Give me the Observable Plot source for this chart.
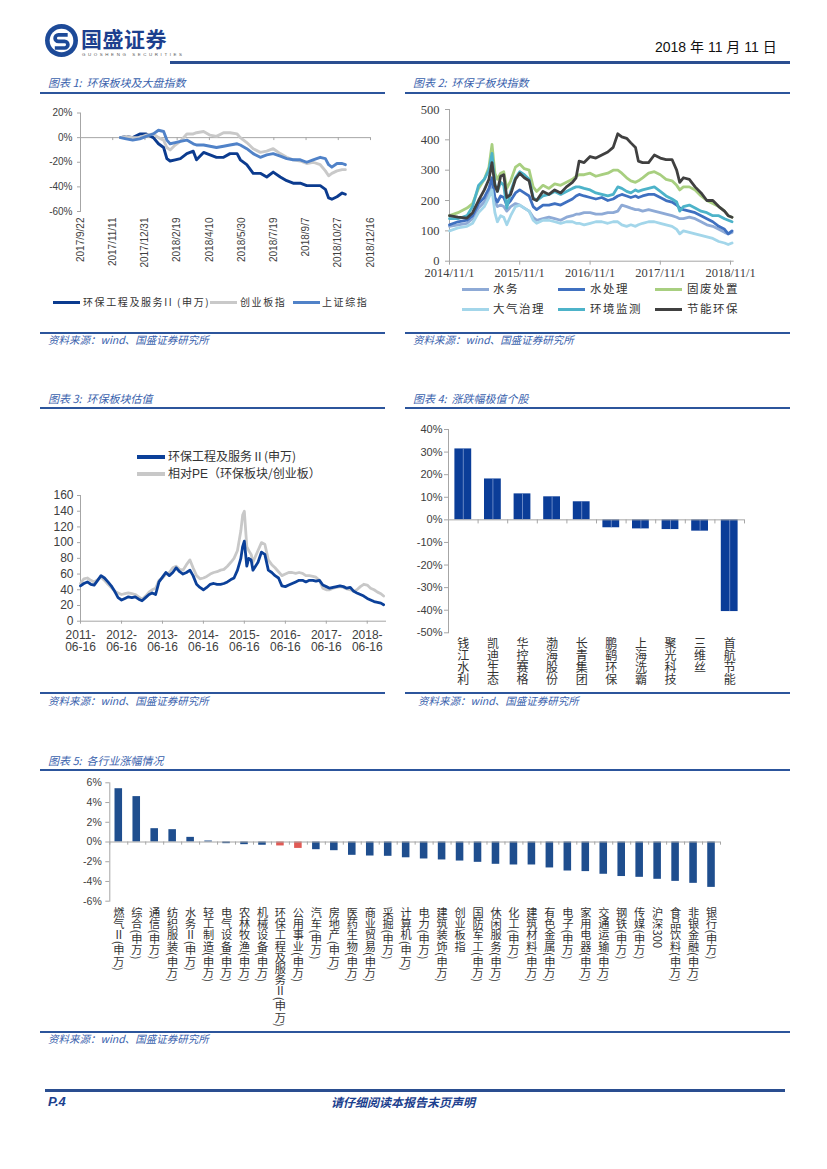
<!DOCTYPE html>
<html><head><meta charset="utf-8">
<script src="https://cdn.jsdelivr.net/npm/d3@7"></script>
<script src="https://cdn.jsdelivr.net/npm/@observablehq/plot@0.6"></script>
<style>
html,body{margin:0;padding:0;background:#fff;}
#page{position:relative;width:827px;height:1169px;overflow:hidden;font-family:"Noto Sans CJK SC","Noto Sans",sans-serif;color:#333;}
.t{position:absolute;white-space:nowrap;}
.title{position:absolute;white-space:nowrap;font-style:italic;color:#3a62ad;font-size:11px;line-height:12px;}
.src{position:absolute;white-space:nowrap;font-style:italic;color:#3a62ad;font-size:10.5px;line-height:12px;}
.bar{position:absolute;background:#2c559c;}
.lg{position:absolute;white-space:nowrap;line-height:12px;}
</style></head>
<body><div id="page"></div>
<script>
// ---------------- data ----------------
// Chart 1
const c1Series = ["环保工程及服务II (申万)", "创业板指", "上证综指"];
const c1Colors = ["#0b3b8f", "#c9c9c9", "#5082c8"];
const c1Dates = ["2017-11-23","2017-12-02","2017-12-12","2017-12-23","2018-01-02","2018-01-13","2018-01-21","2018-01-29","2018-02-03","2018-02-08","2018-02-16","2018-02-24","2018-03-06","2018-03-16","2018-03-21","2018-04-01","2018-04-11","2018-04-21","2018-05-02","2018-05-12","2018-05-23","2018-05-28","2018-06-07","2018-06-17","2018-06-28","2018-07-08","2018-07-18","2018-07-29","2018-08-08","2018-08-18","2018-08-29","2018-09-08","2018-09-18","2018-09-29","2018-10-07","2018-10-12","2018-10-17","2018-10-25","2018-11-02","2018-11-07"];
const c1Env = [0,1,0,3,3,0,-5,-8,-17,-19,-18,-17,-13,-11,-18,-12,-14,-16,-16,-13,-13,-18,-22,-29,-29,-32,-28,-32,-35,-37,-37,-39,-39,-39,-42,-49,-50,-48,-45,-46];
const c1Gem = [0,1,0,0,2,3,0,-2,-8,-10,-6,-3,3,3,4,5,2,1,4,4,3,0,-4,-9,-12,-11,-9,-13,-16,-18,-19,-21,-20,-22,-27,-31,-29,-27,-26,-26];
const c1Sh  = [0,-1,-2,-1,1,3,6,5,-2,-5,-4,-3,-2,-5,-6,-6,-7,-8,-7,-6,-5,-6,-9,-13,-16,-14,-13,-15,-17,-18,-18,-20,-18,-16,-17,-22,-24,-21,-21,-22];
const c1TickLabels = ["2017/9/22","2017/11/11","2017/12/31","2018/2/19","2018/4/10","2018/5/30","2018/7/19","2018/9/7","2018/10/27","2018/12/16"];
const c1YTicks = [20,0,-20,-40,-60];

// Chart 2
const c2Series = ["水务","水处理","固废处置","大气治理","环境监测","节能环保"];
const c2Colors = ["#8eaad6","#3f70c0","#a8cf80","#a3d6ea","#4db3c9","#404040"];
const c2Dates = ["2014-11-01","2014-12-15","2015-01-31","2015-03-01","2015-04-01","2015-05-01","2015-05-25","2015-06-10","2015-06-25","2015-07-08","2015-07-25","2015-08-10","2015-08-26","2015-09-15","2015-10-10","2015-11-01","2015-11-25","2015-12-20","2016-01-10","2016-01-28","2016-03-01","2016-04-01","2016-05-01","2016-06-01","2016-07-01","2016-08-01","2016-08-20","2016-09-05","2016-10-01","2016-11-01","2016-12-01","2017-01-01","2017-02-01","2017-03-01","2017-03-25","2017-04-15","2017-05-10","2017-06-01","2017-06-25","2017-07-10","2017-08-01","2017-09-01","2017-10-01","2017-11-01","2017-12-01","2018-01-01","2018-01-25","2018-02-10","2018-03-01","2018-04-01","2018-05-01","2018-06-01","2018-07-01","2018-08-01","2018-09-01","2018-10-01","2018-10-20","2018-11-09"];
const c2Water   = [115,120,125,140,175,195,220,250,195,180,185,180,165,180,190,185,175,165,145,135,140,145,140,135,145,150,155,155,160,160,155,155,160,160,165,185,180,175,170,170,165,170,165,160,155,150,145,140,140,145,140,130,120,115,105,95,90,95];
const c2Treat   = [120,130,135,150,190,210,240,275,210,195,215,210,185,200,225,235,225,215,180,170,185,185,190,185,195,205,215,220,215,210,205,210,200,205,215,220,215,210,215,210,215,220,220,210,200,195,185,175,170,165,160,150,140,130,115,105,90,100];
const c2Solid   = [150,160,175,190,240,270,310,385,290,270,290,295,240,265,310,320,305,300,245,230,250,240,255,250,260,270,280,285,285,290,280,285,290,300,300,290,275,265,260,265,275,290,295,285,270,265,250,235,245,245,235,215,200,190,180,165,150,145];
const c2Air     = [100,110,115,125,160,180,210,235,160,130,150,145,120,150,180,185,175,165,135,125,135,135,130,125,130,130,125,125,120,125,130,130,125,130,130,120,115,120,115,120,125,130,130,125,120,115,105,90,100,95,90,85,80,75,65,60,55,60];
const c2Monitor = [140,140,150,180,250,270,300,355,255,230,260,250,175,230,275,295,285,270,210,200,215,220,230,220,230,240,245,245,240,235,225,220,215,220,245,240,230,225,235,230,235,240,245,230,215,205,195,165,180,185,175,165,160,150,150,140,135,130];
const c2Energy  = [150,145,142,160,200,235,270,325,250,230,280,285,210,220,270,290,275,265,205,200,230,220,235,225,245,260,275,330,325,345,340,350,360,375,420,410,405,390,375,330,325,325,350,340,335,335,300,260,275,270,245,225,200,200,180,165,150,145];
const c2TickLabels = ["2014/11/1","2015/11/1","2016/11/1","2017/11/1","2018/11/1"];
const c2YTicks = [0,100,200,300,400,500];

// Chart 3
const c3Series = ["相对PE（环保板块/创业板）","环保工程及服务Ⅱ(申万)"];
const c3Colors = ["#c8c8c8","#0b4099"];
const c3Dates = ["2011-06-16","2011-07-16","2011-08-16","2011-09-16","2011-10-16","2011-11-16","2011-12-16",
"2012-01-16","2012-02-16","2012-03-16","2012-04-16","2012-05-16","2012-06-16","2012-07-16","2012-08-16","2012-09-16","2012-10-16","2012-11-16","2012-12-16",
"2013-01-16","2013-02-16","2013-03-16","2013-04-16","2013-05-16","2013-06-16","2013-07-16","2013-08-16","2013-09-16","2013-10-16","2013-11-16","2013-12-16",
"2014-01-16","2014-02-16","2014-03-16","2014-04-16","2014-05-16","2014-06-16","2014-07-16","2014-08-16","2014-09-16","2014-10-16","2014-11-16","2014-12-16",
"2015-01-16","2015-02-16","2015-03-16","2015-04-16","2015-05-16","2015-06-01","2015-06-16","2015-07-08","2015-07-25","2015-08-16","2015-09-01","2015-10-16","2015-11-16","2015-12-16",
"2016-01-16","2016-02-16","2016-03-16","2016-04-16","2016-05-16","2016-06-16","2016-07-16","2016-08-16","2016-09-16","2016-10-16","2016-11-16","2016-12-16",
"2017-01-16","2017-02-16","2017-03-16","2017-04-16","2017-05-16","2017-06-16","2017-07-16","2017-08-16","2017-09-16","2017-10-16","2017-11-16","2017-12-16",
"2018-01-16","2018-02-16","2018-03-16","2018-04-16","2018-05-16","2018-06-16","2018-07-16","2018-08-16","2018-09-16","2018-10-16","2018-11-09"];
const c3Env = [45,48,50,47,46,52,58,
55,50,45,38,30,27,29,31,30,31,28,26,
30,34,36,34,50,56,62,58,62,68,63,60,
62,65,58,47,43,40,43,47,48,47,47,48,
50,53,55,65,80,95,102,70,80,78,65,75,88,85,
65,62,58,55,45,44,46,48,50,52,52,50,
52,52,51,52,46,44,42,43,44,45,44,42,
43,38,36,34,32,29,27,25,24,23,21];
const c3PE = [48,54,55,52,50,53,56,
52,47,43,38,36,34,35,36,35,34,31,28,
32,37,40,42,52,55,60,62,68,70,66,65,
72,78,68,58,54,55,57,60,62,63,65,66,
70,75,80,90,115,135,140,95,90,85,75,90,100,98,
78,72,68,63,58,60,62,62,61,62,61,58,
58,57,56,52,42,40,40,42,43,44,43,41,
40,38,40,44,47,46,42,40,37,35,32];
const c3TickLabels = ["2011-06-16","2012-06-16","2013-06-16","2014-06-16","2015-06-16","2016-06-16","2017-06-16","2018-06-16"];
const c3YTicks = [0,20,40,60,80,100,120,140,160];

// Chart 4
const c4Names = ["钱江水利","凯迪生态","华控赛格","渤海股份","长青集团","鹏鹞环保","上海洗霸","聚光科技","三维丝","首航节能"];
const c4Values = [31.4,18.1,11.5,10.2,8.0,-3.5,-4.0,-4.3,-5.0,-40.6];
const c4YTicks = [40,30,20,10,0,-10,-20,-30,-40,-50];

// Chart 5
const c5Names = ["燃气Ⅱ(申万)","综合(申万)","通信(申万)","纺织服装(申万)","水务Ⅱ(申万)","轻工制造(申万)","电气设备(申万)","农林牧渔(申万)","机械设备(申万)","环保工程及服务Ⅱ(申万)","公用事业(申万)","汽车(申万)","房地产(申万)","医药生物(申万)","商业贸易(申万)","采掘(申万)","计算机(申万)","电力(申万)","建筑装饰(申万)","创业板指","国防军工(申万)","休闲服务(申万)","化工(申万)","建筑材料(申万)","有色金属(申万)","电子(申万)","家用电器(申万)","交通运输(申万)","钢铁(申万)","传媒(申万)","沪深300","食品饮料(申万)","非银金融(申万)","银行(申万)"];
const c5Values = [5.4,4.6,1.35,1.25,0.47,0.1,-0.17,-0.27,-0.33,-0.4,-0.65,-0.78,-0.88,-1.35,-1.42,-1.45,-1.6,-1.72,-1.82,-1.93,-2.06,-2.26,-2.33,-2.33,-2.63,-2.94,-3.0,-3.27,-3.5,-3.58,-3.78,-3.99,-4.19,-4.6];
const c5Highlight = ["环保工程及服务Ⅱ(申万)","公用事业(申万)"];
const c5YTicks = [6,4,2,0,-2,-4,-6];

// ---------------- helpers ----------------
const page = document.getElementById("page");
const parse = s => { const [y,m,d] = s.split(/[-\/]/).map(Number); return new Date(Date.UTC(y, m-1, d)); };
function place(el, left, top){ el.style.position="absolute"; el.style.left=left+"px"; el.style.top=top+"px"; page.appendChild(el); return el; }
function div(cls, left, top, html, css){ const e=document.createElement("div"); e.className=cls; e.innerHTML=html||""; if(css) e.style.cssText += css; return place(e,left,top); }
function hline(left, top, width, h, color){ return div("bar", left, top, "", `width:${width}px;height:${h}px;background:${color||"#2c559c"};`); }
function grayAxes(svg, c){ d3.select(svg).selectAll('[stroke="currentColor"]').attr("stroke", c || "#a6a6a6"); }
function vertical(svg){
  d3.select(svg).selectAll('g[aria-label="text"] text')
    .attr("dy", null)
    .attr("text-anchor","start")
    .style("writing-mode","vertical-rl")
    .style("text-orientation","mixed");
}
const baseStyle = (font, size) => ({fontFamily: font, fontSize: size, color: "#404040", background: "transparent", overflow: "visible"});
const SANS = "'Liberation Sans', Arial, sans-serif";
const SERIF = "'Liberation Serif', 'Times New Roman', serif";

// ---------------- header / footer ----------------
div("t", 44, 23, `<svg width="35" height="35" viewBox="0 0 34 34"><circle cx="17" cy="17" r="16" fill="#1d4a98"/><circle cx="17" cy="17" r="11.5" fill="#fff"/><path d="M23 11.5 H14 a3.2 3.2 0 0 0 0 6.4 H20 a3.2 3.2 0 0 1 0 6.4 H10.5" fill="none" stroke="#1d4a98" stroke-width="3.6"/></svg>`);
div("t", 81, 27, "国盛证券", "font-size:21px;font-weight:700;color:#1c3f8e;letter-spacing:0.5px;line-height:22px;");
div("t", 82, 52, "GUOSHENG SECURITIES", "font-family:'Liberation Sans',Arial;font-size:4.4px;color:#555;letter-spacing:2.6px;line-height:5px;");
div("t", 655, 38, "2018 年 11 月 11 日", "font-size:14px;color:#111;line-height:18px;font-family:'Liberation Sans Narrow','Liberation Sans','Noto Sans CJK SC';");
hline(170, 61, 620, 2.5, "#2a4e90");

hline(45, 1089, 740, 2.5, "#2a4e90");
div("t", 48, 1094, "P.4", "font-size:13px;font-weight:700;font-style:italic;color:#1c3f8e;line-height:15px;font-family:'Liberation Sans',Arial;");
div("t", 331, 1094, "请仔细阅读本报告末页声明", "font-size:12px;font-weight:700;font-style:italic;color:#1c3f8e;line-height:15px;");

// titles & sources
div("title", 48, 76, "图表 1:&nbsp; 环保板块及大盘指数");
div("title", 413, 76, "图表 2:&nbsp; 环保子板块指数");
hline(40, 92, 345, 2, "#2c559c"); hline(405, 92, 385, 2, "#2c559c");
hline(40, 332, 345, 1.5, "#2c559c"); hline(405, 332, 385, 1.5, "#2c559c");
div("src", 48, 334, "资料来源：wind、国盛证券研究所");
div("src", 413, 334, "资料来源：wind、国盛证券研究所");

div("title", 48, 392, "图表 3:&nbsp; 环保板块估值");
div("title", 413, 392, "图表 4:&nbsp; 涨跌幅极值个股");
hline(40, 407, 345, 2, "#2c559c"); hline(405, 407, 385, 2, "#2c559c");
hline(40, 692, 345, 1.5, "#2c559c"); hline(405, 692, 385, 1.5, "#2c559c");
div("src", 48, 695, "资料来源：wind、国盛证券研究所");
div("src", 418, 695, "资料来源：wind、国盛证券研究所");

div("title", 48, 754, "图表 5:&nbsp; 各行业涨幅情况");
hline(40, 769, 750, 2, "#2c559c");
hline(40, 1031, 750, 1.5, "#2c559c");
div("src", 48, 1033, "资料来源：wind、国盛证券研究所");

// ---------------- chart 1 ----------------
{
  const vals = [c1Env, c1Gem, c1Sh];
  const rows = [];
  c1Series.forEach((s,k) => c1Dates.forEach((d,i) => rows.push({date: parse(d), value: vals[k][i], series: s})));
  const ticks = c1TickLabels.map(parse);
  const svg = Plot.plot({
    width: 345, height: 200, marginLeft: 40, marginRight: 15, marginTop: 12.5, marginBottom: 89,
    style: baseStyle(SANS, "10px"),
    x: {type: "utc", domain: [ticks[0], ticks[ticks.length-1]], ticks, tickFormat: d => c1TickLabels[ticks.findIndex(t => +t === +d)], tickRotate: -90, tickSize: 0, tickPadding: 6, label: null},
    y: {domain: [-60, 20], ticks: c1YTicks, tickFormat: d => d + "%", tickSize: 3, tickPadding: 5, line: true, label: null},
    color: {domain: c1Series, range: c1Colors},
    marks: [
      Plot.ruleY([0], {stroke: "#a6a6a6"}),
      Plot.ruleX(ticks, {y1: 0, y2: -2.4, stroke: "#a6a6a6"}),
      Plot.line(rows, {x: "date", y: "value", z: "series", stroke: "series", strokeWidth: 2.9})
    ]
  });
  grayAxes(svg);
  place(svg, 40, 100);
  const lx = [53, 210, 293], tx = [83, 240, 322];
  c1Series.forEach((s,k) => {
    hline(lx[k], 301, 27, 3, c1Colors[k]);
    div("lg", tx[k], 296, s, "font-size:10px;letter-spacing:1.6px;color:#333;");
  });
}

// ---------------- chart 2 ----------------
{
  const vals = [c2Water, c2Treat, c2Solid, c2Air, c2Monitor, c2Energy];
  const rows = [];
  c2Series.forEach((s,k) => c2Dates.forEach((d,i) => rows.push({date: parse(d), value: vals[k][i], series: s})));
  const ticks = c2TickLabels.map(parse);
  const svg = Plot.plot({
    width: 385, height: 185, marginLeft: 44, marginRight: 57.3, marginTop: 9, marginBottom: 24.3,
    style: baseStyle(SERIF, "12.5px"),
    x: {type: "utc", domain: [parse("2014-11-01"), parse("2018-11-15")], ticks, tickFormat: d => c2TickLabels[ticks.findIndex(t => +t === +d)], tickSize: 4, tickPadding: 3, line: true, label: null},
    y: {domain: [0, 500], ticks: c2YTicks, tickSize: 4, tickPadding: 6, line: true, label: null},
    color: {domain: c2Series, range: c2Colors},
    marks: [
      Plot.line(rows, {x: "date", y: "value", z: "series", stroke: "series", strokeWidth: 2.8})
    ]
  });
  grayAxes(svg);
  place(svg, 405, 100);
  const lx = [462, 558, 655], tx = [493, 590, 687], ly = [289, 309];
  c2Series.forEach((s,k) => {
    const col = k % 3, row = Math.floor(k / 3);
    hline(lx[col], ly[row] - 1.5, 27, 3.5, c2Colors[k]);
    div("lg", tx[col], ly[row] - 7, s, "font-size:11.5px;letter-spacing:1.5px;color:#333;");
  });
}

// ---------------- chart 3 ----------------
{
  const vals = [c3PE, c3Env];
  const rows = [];
  c3Series.forEach((s,k) => c3Dates.forEach((d,i) => rows.push({date: parse(d), value: vals[k][i], series: s})));
  const ticks = c3TickLabels.map(parse);
  const svg = Plot.plot({
    width: 350, height: 175, marginLeft: 40, marginRight: 5, marginTop: 10, marginBottom: 39.3,
    style: baseStyle(SANS, "12px"),
    x: {type: "utc", domain: [parse("2011-06-16"), parse("2018-11-26")], ticks, tickFormat: d => { const s = c3TickLabels[ticks.findIndex(t => +t === +d)]; return s.slice(0,5) + "\n" + s.slice(5); }, tickSize: 3, tickPadding: 6, line: true, label: null},
    y: {domain: [0, 160], ticks: c3YTicks, tickSize: 3, tickPadding: 4, line: true, label: null},
    color: {domain: c3Series, range: c3Colors},
    marks: [
      Plot.line(rows, {x: "date", y: "value", z: "series", stroke: "series", strokeWidth: 2.8})
    ]
  });
  grayAxes(svg);
  place(svg, 40, 485);
  hline(137, 455, 28, 4, c3Colors[1]);
  div("lg", 168, 450, c3Series[1], "font-size:12px;color:#333;");
  hline(137, 472, 28, 4, c3Colors[0]);
  div("lg", 168, 467, c3Series[0].replace("PE", "<span style=\"font-family:'Liberation Sans'\">PE</span>"), "font-size:12px;color:#333;");
}

// ---------------- chart 4 ----------------
{
  const rows = c4Names.map((n,i) => ({name: n, value: c4Values[i], i, i1: i + 1, mid: i + 0.5}));
  const bounds = c4Names.map((d,i) => i).concat([c4Names.length]);
  const svg = Plot.plot({
    width: 385, height: 265, marginLeft: 43, marginRight: 46, marginTop: 9, marginBottom: 52.7,
    style: baseStyle(SANS, "11px"),
    x: {domain: [0, c4Names.length], axis: null},
    y: {domain: [-50, 40], ticks: c4YTicks, tickFormat: d => d + "%", tickSize: 4, tickPadding: 2, line: true, label: null},
    marks: [
      Plot.rect(rows, {x1: "i", x2: "i1", y1: 0, y2: "value", fill: "#0b3d98", insetLeft: 6.4, insetRight: 6.4}),
      Plot.ruleX(rows, {x: "mid", y1: 0, y2: "value", stroke: "#7f9bd0", strokeWidth: 0.8}),
      Plot.ruleY([0], {stroke: "#a6a6a6"}),
      Plot.ruleX(bounds, {y1: 0, y2: -1.8, stroke: "#a6a6a6"}),
      Plot.text(rows, {x: "mid", text: "name", frameAnchor: "bottom", dy: 5, fontSize: 12, fill: "#333", fontFamily: "'Noto Sans CJK SC'"})
    ]
  });
  grayAxes(svg);
  vertical(svg);
  place(svg, 405, 420);
}

// ---------------- chart 5 ----------------
{
  const rows = c5Names.map((n,i) => ({name: n, value: c5Values[i], i, i1: i + 1, mid: i + 0.5, hi: c5Highlight.includes(n)}));
  const bounds = c5Names.map((d,i) => i).concat([c5Names.length]);
  const svg = Plot.plot({
    width: 750, height: 260, marginLeft: 69.3, marginRight: 70, marginTop: 7.3, marginBottom: 134.3,
    style: baseStyle(SANS, "10.5px"),
    x: {domain: [0, c5Names.length], axis: null},
    y: {domain: [-6, 6], ticks: c5YTicks, tickFormat: d => d + "%", tickSize: 4, tickPadding: 4, line: true, label: null},
    marks: [
      Plot.rect(rows, {x1: "i", x2: "i1", y1: 0, y2: "value", fill: d => d.hi ? "#e05a55" : "#1f4e8e", insetLeft: 5.2, insetRight: 5.2}),
      Plot.ruleY([0], {stroke: "#a6a6a6"}),
      Plot.ruleX(bounds, {y1: 0, y2: -0.32, stroke: "#a6a6a6"}),
      Plot.text(rows, {x: "mid", text: "name", frameAnchor: "bottom", dy: 6, fontSize: 11.2, fill: "#333", fontFamily: "'Noto Sans CJK SC'"})
    ]
  });
  grayAxes(svg);
  vertical(svg);
  place(svg, 40, 775);
}
</script>
</body></html>
